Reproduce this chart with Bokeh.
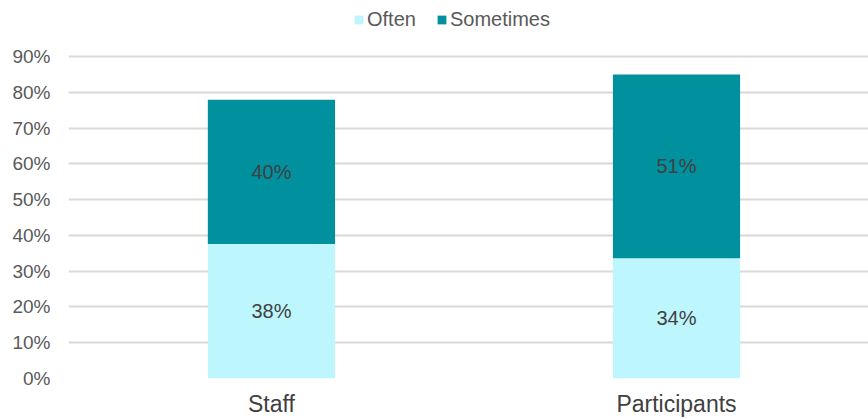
from bokeh.plotting import figure
from bokeh.models import (ColumnDataSource, Range1d, NumeralTickFormatter, Legend, LegendItem,
                          LabelSet, FixedTicker)
from bokeh.core.properties import value
from bokeh.embed import file_html
from bokeh.resources import INLINE

categories = ["Staff", "Participants"]
often = [0.376, 0.336]
sometimes = [0.403, 0.514]
series_names = ["Often", "Sometimes"]
colors = ["#BDF6FC", "#00909E"]
y_ticks = [0.0, 0.1, 0.2, 0.3, 0.4, 0.5, 0.6, 0.7, 0.8, 0.9]

xpos = list(range(len(categories)))
src = ColumnDataSource(dict(
    x=xpos,
    top1=often,
    top2=[a + b for a, b in zip(often, sometimes)],
    mid1=[a / 2 for a in often],
    mid2=[a + b / 2 for a, b in zip(often, sometimes)],
    lab1=["%d%%" % round(v * 100) for v in often],
    lab2=["%d%%" % round(v * 100) for v in sometimes],
))

p = figure(x_range=Range1d(-0.501, 1.474), y_range=Range1d(0, 1.0565),
           width=868, height=419, output_backend="svg", toolbar_location=None,
           min_border_left=68, min_border_right=0, min_border_bottom=41, min_border_top=0)

r1 = p.vbar(x="x", bottom=0, top="top1", width=0.314, source=src, fill_color=colors[0], line_color=None)
r2 = p.vbar(x="x", bottom="top1", top="top2", width=0.314, source=src, fill_color=colors[1], line_color=None)

for ycol, tcol in (("mid1", "lab1"), ("mid2", "lab2")):
    p.add_layout(LabelSet(x="x", y=ycol, text=tcol, source=src, text_align="center",
                          text_baseline="middle", text_font=value("Liberation Sans"),
                          text_font_size="20px", text_color="#404040"))

legend = Legend(items=[LegendItem(label=series_names[0], renderers=[r1]),
                       LegendItem(label=series_names[1], renderers=[r2])],
                orientation="horizontal", location=(285, 347),
                label_text_font="Liberation Sans", label_text_font_size="20px",
                label_text_color="#595959", glyph_width=11, glyph_height=11,
                label_standoff=3, spacing=20, padding=2, margin=0,
                border_line_color=None, background_fill_alpha=0)
p.add_layout(legend, "center")

p.yaxis.ticker = FixedTicker(ticks=y_ticks)
p.yaxis.formatter = NumeralTickFormatter(format="0%")
p.xaxis.ticker = FixedTicker(ticks=xpos)
p.xaxis.major_label_overrides = {i: c for i, c in zip(xpos, categories)}
p.axis.axis_line_color = None
p.axis.major_tick_line_color = None
p.axis.minor_tick_line_color = None
p.axis.major_tick_out = 0
p.axis.major_tick_in = 0
p.yaxis.major_label_text_font = "Liberation Sans"
p.yaxis.major_label_text_font_size = "19px"
p.yaxis.major_label_text_color = "#595959"
p.yaxis.major_label_standoff = 18
p.xaxis.major_label_text_font = "Liberation Sans"
p.xaxis.major_label_text_font_size = "23px"
p.xaxis.major_label_text_color = "#404040"
p.xaxis.major_label_standoff = 12
p.xgrid.grid_line_color = None
p.ygrid.grid_line_color = "#D9D9D9"
p.ygrid.grid_line_width = 2
p.outline_line_color = None

open("out.html", "w").write(file_html(p, INLINE))
